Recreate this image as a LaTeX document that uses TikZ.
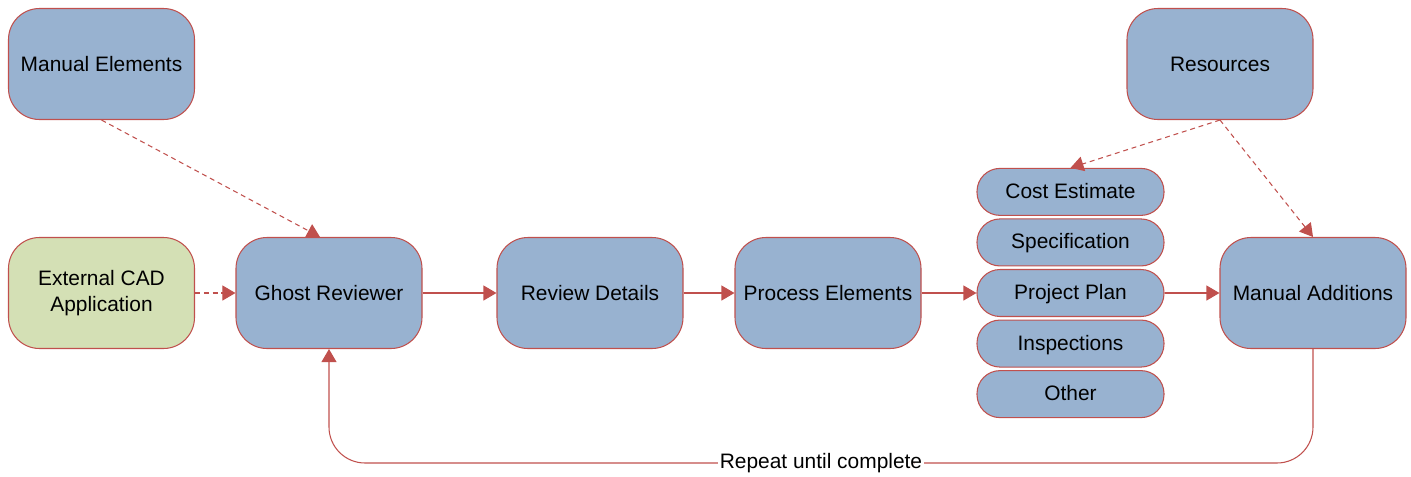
\documentclass[tikz,border=0pt]{standalone}
\usepackage{fontspec}
\setmainfont{Liberation Sans}
\usetikzlibrary{arrows.meta, positioning}

\definecolor{boxblue}{RGB}{152,178,208}
\definecolor{boxgreen}{RGB}{212,224,181}
\definecolor{edgered}{RGB}{192,80,77}

\begin{document}
\begin{tikzpicture}[
  node distance=0.05cm,
  font=\fontsize{11.9}{15}\selectfont,
  box/.style={
    draw=edgered,
    fill=boxblue,
    line width=0.6pt,
    rectangle,
    rounded corners=0.62cm,
    align=center,
    minimum height=2.22cm,
    minimum width=3.72cm
  },
  pill/.style={
    draw=edgered,
    fill=boxblue,
    line width=0.6pt,
    rectangle,
    rounded corners=0.46cm,
    align=center,
    text height=1.7ex,
    text depth=0.3ex,
    minimum height=0.94cm,
    minimum width=3.74cm
  },
  arrow/.style={
    -{Triangle[length=7.4pt,width=8.5pt]},
    draw=edgered,
    line width=0.6pt
  },
  dasharrow/.style={
    arrow,
    dash pattern=on 2.8pt off 2.2pt
  }
]

\useasboundingbox (0,0) rectangle (28.22,-9.52);

% Nodes
\node[box] (manel) at (2.03,-1.28) {Manual Elements};
\node[box] (res) at (24.4,-1.28) {Resources};
\node[box, fill=boxgreen] (cad) at (2.03,-5.86) {External CAD\\Application};
\node[box] (ghost) at (6.58,-5.86) {Ghost Reviewer};
\node[box] (review) at (11.8,-5.86) {Review Details};
\node[box] (process) at (16.56,-5.86) {Process Elements};
\node[pill] (plan) at (21.41,-5.86) {Project Plan};
\node[pill, above=of plan] (spec) {Specification};
\node[pill, above=of spec] (cost) {Cost Estimate};
\node[pill, below=of plan] (insp) {Inspections};
\node[pill, below=of insp] (other) {Other};
\node[box] (madd) at (26.26,-5.86) {Manual Additions};

% Arrows
\draw[dasharrow] (cad) -- (ghost);
\draw[arrow] (ghost) -- (review);
\draw[arrow] (review) -- (process);
\draw[arrow] (process) -- (plan);
\draw[arrow] (plan) -- (madd);

% Dashed inputs
\draw[dasharrow] (manel.south) -- ([xshift=-0.18cm]ghost.north);
\draw[dasharrow] (res.south) -- (cost.north);
\draw[dasharrow] (res.south) -- (madd.north);

% Loop back
\coordinate (loop) at (madd.south |- 0,-9.26);
\draw[arrow, rounded corners=0.72cm] (madd.south) -- (loop) -| node[pos=0.25, fill=white, inner sep=1pt] {Repeat until complete} (ghost.south);

\end{tikzpicture}
\end{document}
